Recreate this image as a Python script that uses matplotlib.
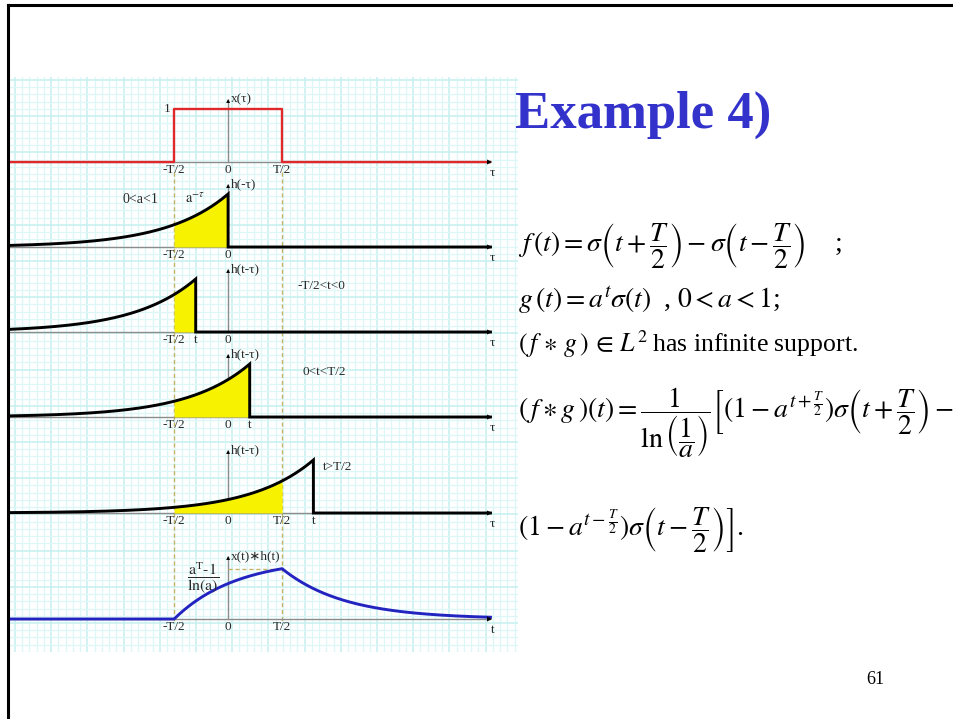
import numpy as np
import matplotlib
matplotlib.use("Agg")
import matplotlib.pyplot as plt
from matplotlib.lines import Line2D
from matplotlib.ticker import MultipleLocator

plt.rcParams["mathtext.fontset"] = "stix"
SERIF = ["Liberation Serif", "DejaVu Sans"]

# ---------------- data ----------------
T = 2.0                      # pulse width; the tau axis is measured so that T/2 = 1
a = 0.42                     # decay base of h(t) = a^t sigma(t), 0 < a < 1
pulse_height = 1.0
shift_t = [-0.6, 0.4, 1.58]  # t used for the three sliding-kernel panels
shift_notes = ["-T/2<t<0", "0<t<T/2", "t>T/2"]
panel_ylabels = ["x(τ)", "h(-τ)", "h(t-τ)", "h(t-τ)", "h(t-τ)", "x(t)∗h(t)"]
panel_xlabels = ["τ", "τ", "τ", "τ", "τ", "t"]
tick_names = {"-T/2": -T / 2, "0": 0.0, "T/2": T / 2}
panel_ticks = [
    ["-T/2", "0", "T/2"],
    ["-T/2", "0"],
    ["-T/2", "t", "0"],
    ["-T/2", "0", "t"],
    ["-T/2", "0", "T/2", "t"],
    ["-T/2", "0", "T/2"],
]

# ---------------- layout ----------------
W, H = 954, 719
IMG_L, IMG_R, IMG_T, IMG_B = 10, 518, 77, 652
TAU_MIN, TAU_MAX = -4.04, 5.37
TAU_ARROW = 4.86
UNIT_PX = 53.0
BASELINES = [162, 247, 332, 417, 513, 619]
NOTE_POS = [(1.28, 0.87), (1.37, 0.85), (1.76, 0.87)]

GRAY = "#8c8c8c"
RED = "#e0282a"
BLUE = "#2323c0"
YELLOW = "#f6f200"
DASH = "#c4b46a"
TITLE_BLUE = "#3333cc"
LABEL = "#2a2a2a"
LFS = 9.5

fig = plt.figure(figsize=(W / 100, H / 100), dpi=100)
fig.patch.set_facecolor("white")


def fx(px):
    return px / W


def fy(py):
    return 1 - py / H


# graph-paper background
bg = fig.add_axes([fx(IMG_L), fy(IMG_B), fx(IMG_R - IMG_L), (IMG_B - IMG_T) / H])
bg.set_xlim(-5, IMG_R - IMG_L - 5)
bg.set_ylim(IMG_B - IMG_T - 3, -3)
bg.xaxis.set_major_locator(MultipleLocator(36.2))
bg.xaxis.set_minor_locator(MultipleLocator(7.24))
bg.yaxis.set_major_locator(MultipleLocator(36.2))
bg.yaxis.set_minor_locator(MultipleLocator(7.24))
bg.grid(which="minor", color="#ddf7f7", lw=0.9)
bg.grid(which="major", color="#c6f0f0", lw=1.1)
bg.tick_params(which="both", length=0, labelbottom=False, labelleft=False)
for s in bg.spines.values():
    s.set_visible(False)
bg.set_facecolor("white")

# overlay spanning all panels (tau on x, pixel rows on y)
ov = fig.add_axes(bg.get_position())
ov.set_xlim(TAU_MIN, TAU_MAX)
ov.set_ylim(IMG_B, IMG_T)
ov.axis("off")
ov.patch.set_alpha(0)
ov.vlines([-T / 2, T / 2], BASELINES[0] + 10, BASELINES[-1] + 3,
          colors=DASH, linestyles=(0, (3, 2)), lw=1.0)


def make_panel(base):
    ax = fig.add_axes([fx(IMG_L), fy(base + 25), fx(IMG_R - IMG_L), 105 / H])
    ax.set_xlim(TAU_MIN, TAU_MAX)
    ax.set_ylim(-25 / UNIT_PX, 80 / UNIT_PX)
    ax.axis("off")
    ax.patch.set_alpha(0)
    return ax


def draw_axes(ax, idx, tvalue=None):
    ax.plot([TAU_MIN, TAU_ARROW], [0, 0], color=GRAY, lw=1.0, zorder=1)
    ax.annotate("", xy=(TAU_ARROW + 0.08, 0), xytext=(TAU_ARROW - 0.1, 0),
                arrowprops=dict(arrowstyle="-|>", color="black", lw=0.01,
                                mutation_scale=9), zorder=5)
    ax.text(TAU_ARROW + 0.04, -0.1, panel_xlabels[idx], ha="center", va="top",
            fontsize=LFS, family=SERIF, color=LABEL)
    ax.plot([0, 0], [0, 1.17], color=GRAY, lw=1.0, zorder=1)
    ax.annotate("", xy=(0, 1.24), xytext=(0, 1.1),
                arrowprops=dict(arrowstyle="-|>", color="black", lw=0.01,
                                mutation_scale=7), zorder=5)
    ax.text(0.05, 1.19, panel_ylabels[idx], ha="left", va="center",
            fontsize=LFS, family=SERIF, color=LABEL)
    for name in panel_ticks[idx]:
        x = tvalue if name == "t" else tick_names[name]
        ax.text(x, -0.04, name, ha="center", va="top", fontsize=LFS,
                family=SERIF, color=LABEL)


# panel 1: rectangular pulse x(tau)
ax = make_panel(BASELINES[0])
draw_axes(ax, 0)
ax.plot([TAU_MIN, -T / 2, -T / 2, T / 2, T / 2, TAU_ARROW],
        [0, 0, pulse_height, pulse_height, 0, 0], color=RED, lw=1.7, zorder=3)
ax.text(-T / 2 - 0.07, pulse_height, "1", ha="right", va="center",
        fontsize=LFS, family=SERIF, color=LABEL)


def kernel_panel(ax, t):
    tau = np.linspace(TAU_MIN, t, 400)
    h = a ** (t - tau)
    lo, hi = -T / 2, min(t, T / 2)
    if hi > lo:
        seg = np.linspace(lo, hi, 200)
        ax.fill_between(seg, 0, a ** (t - seg), color=YELLOW, lw=0, zorder=2)
    ax.plot(np.r_[tau, t, TAU_ARROW], np.r_[h, 0, 0], color="black",
            lw=2.1, zorder=3, solid_joinstyle="miter")


# panel 2: flipped kernel h(-tau)
ax = make_panel(BASELINES[1])
draw_axes(ax, 1)
kernel_panel(ax, 0.0)
ax.text(-1.63, 0.89, "0<a<1", ha="center", va="center", fontsize=LFS + 0.5,
        family=SERIF, color=LABEL)
ax.text(-0.62, 0.91, r"$\mathrm{a}^{-\tau}$", ha="center", va="center",
        fontsize=LFS + 1, color=LABEL)

# panels 3-5: shifted kernel h(t - tau)
for k, t in enumerate(shift_t):
    ax = make_panel(BASELINES[2 + k])
    draw_axes(ax, 2 + k, t)
    kernel_panel(ax, t)
    nx, ny = NOTE_POS[k]
    ax.text(nx, ny, shift_notes[k], ha="left", va="center", fontsize=LFS,
            family=SERIF, color=LABEL)

# panel 6: the convolution result
ax = make_panel(BASELINES[5])
draw_axes(ax, 5)
tt = np.linspace(TAU_MIN, TAU_ARROW, 1200)
lna = np.log(1 / a)
y = np.where(tt < -T / 2, 0.0,
             np.where(tt < T / 2, (1 - a ** (tt + T / 2)) / lna,
                      (a ** (tt - T / 2) - a ** (tt + T / 2)) / lna))
peak = (1 - a ** T) / lna
ax.plot(tt, y, color=BLUE, lw=2.1, zorder=3)
ax.hlines(peak, 0, T / 2, colors=DASH, linestyles=(0, (3, 2)), lw=1.0, zorder=2)
ax.text(-0.47, 0.79, r"$\dfrac{\mathrm{a^T\text{-}1}}{\mathrm{ln(a)}}$",
        ha="center", va="center", fontsize=11.5, color=LABEL)

# slide frame
fig.add_artist(Line2D([fx(8.5), 1.0], [fy(5), fy(5)], color="black", lw=2.2))
fig.add_artist(Line2D([fx(8.5), fx(8.5)], [fy(5), 0.0], color="black", lw=2.2))

# title and formulas
fig.text(fx(515), fy(128), "Example 4)", color=TITLE_BLUE, fontsize=38,
         fontweight="bold", family="Liberation Serif", ha="left", va="baseline")

FS = 20
fig.text(fx(518), fy(252),
         r"$f\,(t)=\sigma\left(t+\dfrac{T}{2}\right)-\sigma\left(t-\dfrac{T}{2}\right)$    ;",
         fontsize=FS, family="Liberation Serif", ha="left", va="baseline")
fig.text(fx(518), fy(308),
         r"$g\,(t)=a^{t}\sigma(t)\;$ , $0<a<1$;",
         fontsize=FS, family="Liberation Serif", ha="left", va="baseline")
fig.text(fx(518), fy(352),
         r"$(\,f\,\ast\,g\,)\,\in\,L^{2}\;$has infinite support.",
         fontsize=18.5, family="Liberation Serif", ha="left", va="baseline")
fig.text(fx(518), fy(418),
         r"$(\,f\ast g\,)(t)=\dfrac{1}{\ln\left(\dfrac{1}{a}\right)}"
         r"\left[\left(1-a^{t+\frac{T}{2}}\right)\sigma\left(t+\dfrac{T}{2}\right)-\right.$",
         fontsize=FS, family="Liberation Serif", ha="left", va="baseline")
fig.text(fx(518), fy(536),
         r"$\left.\left(1-a^{t-\frac{T}{2}}\right)\sigma\left(t-\dfrac{T}{2}\right)\right]$.",
         fontsize=FS, family="Liberation Serif", ha="left", va="baseline")

fig.text(fx(866), fy(684), "61", fontsize=13, family="Liberation Serif",
         ha="left", va="baseline")

fig.savefig("out.png", dpi=100, facecolor="white")
